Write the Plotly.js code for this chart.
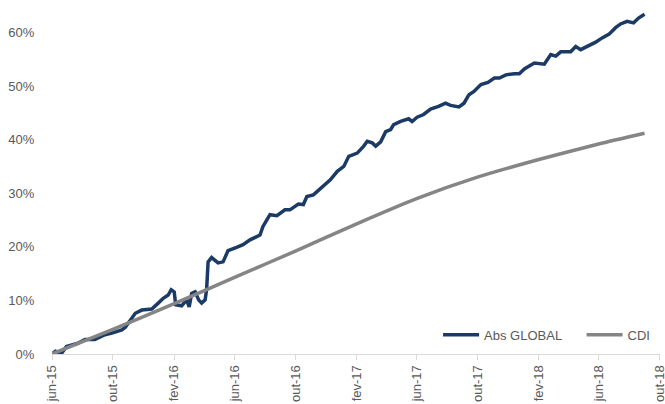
<!DOCTYPE html>
<html>
<head>
<meta charset="utf-8">
<script src="https://cdn.plot.ly/plotly-3.0.1.min.js"></script>
<style>
html,body{margin:0;padding:0;background:#fff;}
#chart{width:665px;height:404px;}
</style>
</head>
<body>
<div id="chart"></div>
<script>
const absDates = [
"2015-06-01","2015-06-08","2015-06-20","2015-06-30","2015-07-23","2015-08-06","2015-08-26","2015-09-15","2015-09-29","2015-10-19",
"2015-10-26","2015-11-05","2015-11-15","2015-11-28","2015-12-18","2015-12-31","2016-01-10","2016-01-20","2016-01-26","2016-02-01",
"2016-02-04","2016-02-16","2016-02-26","2016-03-02","2016-03-07","2016-03-14","2016-03-21","2016-03-27","2016-04-03","2016-04-06",
"2016-04-09","2016-04-16","2016-04-29","2016-05-09","2016-05-19","2016-06-05","2016-06-18","2016-07-02","2016-07-22","2016-07-28",
"2016-08-11","2016-08-25","2016-09-10","2016-09-20","2016-10-07","2016-10-17","2016-10-24","2016-11-06","2016-11-26","2016-12-10",
"2016-12-24","2017-01-06","2017-01-16","2017-02-02","2017-02-15","2017-02-22","2017-03-04","2017-03-11","2017-03-21","2017-03-31",
"2017-04-10","2017-04-16","2017-04-30","2017-05-16","2017-05-23","2017-06-02","2017-06-15","2017-06-29","2017-07-15","2017-07-29",
"2017-08-08","2017-08-25","2017-09-04","2017-09-14","2017-09-24","2017-10-08","2017-10-22","2017-11-04","2017-11-14","2017-11-27",
"2017-12-14","2017-12-24","2018-01-03","2018-01-17","2018-01-23","2018-02-12","2018-02-22","2018-02-25","2018-03-07","2018-03-17",
"2018-04-06","2018-04-16","2018-04-26","2018-05-09","2018-05-26","2018-06-08","2018-06-22","2018-07-05","2018-07-15","2018-07-28",
"2018-08-10","2018-08-20","2018-09-01"
];
const absValues = [
0.0,0.5,0.1,1.4,2.0,2.7,2.7,3.6,3.9,4.5,
5.0,6.2,7.6,8.2,8.4,9.5,10.4,11.0,12.0,11.6,
9.2,9.0,10.1,8.8,11.3,11.6,10.1,9.5,10.1,12.0,
17.2,18.0,17.0,17.2,19.3,19.9,20.4,21.3,22.2,23.8,
26.0,25.8,26.9,26.9,28.0,27.9,29.4,29.7,31.3,32.5,
34.1,35.0,36.9,37.5,38.8,39.7,39.4,38.8,39.6,41.5,
41.9,42.8,43.4,43.9,43.4,44.2,44.7,45.7,46.2,46.8,
46.4,46.1,46.8,48.4,49.0,50.3,50.7,51.5,51.5,52.1,
52.3,52.3,53.2,54.1,54.3,54.1,55.3,55.9,55.6,56.4,
56.4,57.4,56.8,57.4,58.2,59.0,59.7,60.9,61.6,62.1,
61.8,62.7,63.4
];
const cdiDates = ["2015-06-01","2015-10-01","2016-02-01","2016-06-01","2016-10-01","2017-02-01","2017-06-01","2017-10-01","2018-02-01","2018-06-01","2018-09-01"];
const cdiValues = [0.0,4.6,9.4,14.3,19.2,24.3,29.0,33.0,36.3,39.2,41.2];
const tickDates = ["2015-06-01","2015-10-01","2016-02-01","2016-06-01","2016-10-01","2017-02-01","2017-06-01","2017-10-01","2018-02-01","2018-06-01","2018-10-01"];
const tickLabels = ["jun-15","out-15","fev-16","jun-16","out-16","fev-17","jun-17","out-17","fev-18","jun-18","out-18"];
const yTickVals = [0, 10, 20, 30, 40, 50, 60];
const yTickText = ["0%", "10%", "20%", "30%", "40%", "50%", "60%"];
const seriesNames = ["Abs GLOBAL", "CDI"];

const FONT = "Liberation Sans Narrow, Liberation Sans, Arial, sans-serif";
const NB = "\u00a0";
const traces = [
  {x: absDates, y: absValues, name: seriesNames[0] + NB.repeat(4), type: "scatter", mode: "lines",
   line: {color: "#1B3A65", width: 3.5}},
  {x: cdiDates, y: cdiValues, name: seriesNames[1], type: "scatter", mode: "lines",
   line: {color: "#858585", width: 3.5, shape: "spline", smoothing: 0.6}}
];
const layout = {
  width: 665, height: 404,
  margin: {l: 52, r: 5, t: 6, b: 50},
  paper_bgcolor: "#fff", plot_bgcolor: "#fff",
  font: {family: FONT, size: 13, color: "#595959"},
  showlegend: true,
  legend: {orientation: "h", x: 0.635, xanchor: "left", y: 0.055, yanchor: "middle", itemwidth: 36,
           bgcolor: "rgba(0,0,0,0)", font: {family: FONT, size: 13, color: "#595959"}},
  xaxis: {type: "date", range: ["2015-06-01","2018-10-02"], tickvals: tickDates, ticktext: tickLabels,
          tickangle: -90, showgrid: false, zeroline: false, showline: true, linecolor: "#D9D9D9", linewidth: 1,
          ticks: "outside", ticklen: 5, tickcolor: "#D9D9D9", automargin: false, ticklabeloverflow: "allow",
          tickfont: {family: FONT, size: 13, color: "#595959"}},
  yaxis: {range: [0, 64.95], tickmode: "array", tickvals: yTickVals, ticktext: yTickText,
          showgrid: false, zeroline: false, showline: false,
          ticks: "outside", ticklen: 14, tickcolor: "#ffffff", tickwidth: 1, automargin: false,
          ticklabeloverflow: "allow",
          tickfont: {family: FONT, size: 13, color: "#595959"}}
};
Plotly.newPlot("chart", traces, layout, {displayModeBar: false, staticPlot: true});
</script>
</body>
</html>
